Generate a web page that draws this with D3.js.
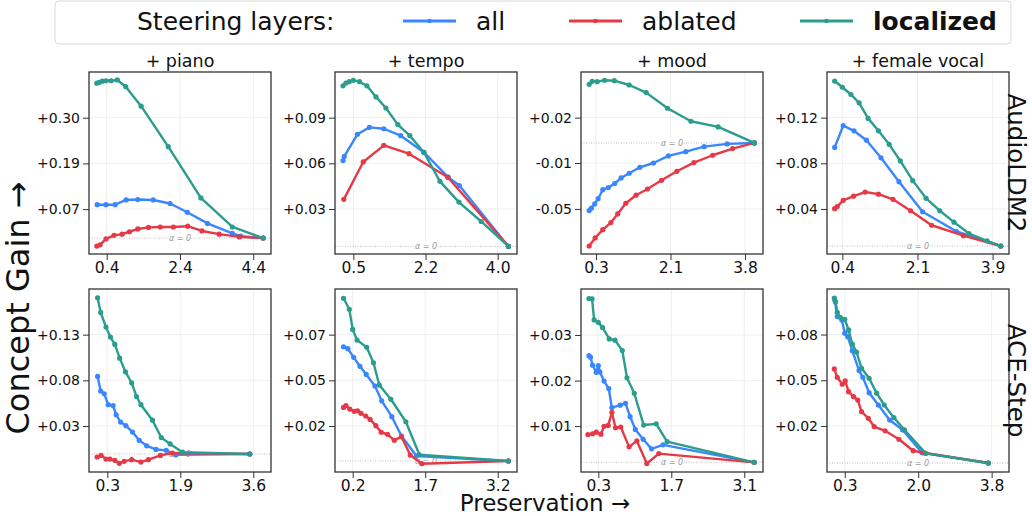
<!DOCTYPE html>
<html>
<head>
<meta charset="utf-8">
<script src="https://cdn.jsdelivr.net/npm/d3@7"></script>
<style>
  body { margin: 0; background: #fff; }
  svg { font-family: "DejaVu Sans", sans-serif; }
</style>
</head>
<body>
<div id="chart"></div>
<script>
const concepts = ["+ piano", "+ tempo", "+ mood", "+ female vocal"];
const models = ["AudioLDM2", "ACE-Step"];
const seriesNames = ["all", "ablated", "localized"];

// points are [preservation, concept gain]
// AudioLDM2
const ldmPianoAll = [[0.14,0.084],[0.38,0.084],[0.63,0.084],[0.93,0.096],[1.25,0.097],[1.67,0.096],[2.13,0.087],[2.6,0.065],[3.15,0.037],[3.83,0.012],[4.06,0.005],[4.67,0]];
const ldmPianoAblated = [[0.13,-0.020],[0.22,-0.017],[0.38,-0.002],[0.6,0.007],[0.82,0.010],[1.02,0.016],[1.25,0.023],[1.54,0.027],[1.86,0.028],[2.22,0.028],[2.61,0.030],[3.0,0.018],[3.47,0.010],[4.02,0.003],[4.67,0]];
const ldmPianoLocalized = [[0.13,0.390],[0.2,0.392],[0.28,0.395],[0.38,0.396],[0.52,0.396],[0.69,0.398],[0.92,0.381],[1.34,0.332],[2.08,0.230],[2.97,0.101],[3.83,0.028],[4.67,0]];

const ldmTempoAll = [[0.25,0.062],[0.28,0.065],[0.6,0.081],[0.89,0.086],[1.24,0.085],[1.65,0.080],[2.21,0.068],[2.8,0.050],[3.07,0.044],[4.26,0]];
const ldmTempoAblated = [[0.27,0.034],[0.74,0.061],[1.24,0.073],[1.85,0.067],[2.79,0.050],[4.26,0]];
const ldmTempoLocalized = [[0.25,0.116],[0.32,0.118],[0.4,0.119],[0.5,0.120],[0.65,0.119],[0.83,0.116],[1.05,0.108],[1.29,0.100],[1.58,0.088],[1.87,0.080],[2.21,0.068],[2.6,0.047],[3.06,0.032],[3.6,0.018],[4.26,0]];

const ldmMoodAll = [[0.14,-0.0489],[0.19,-0.0472],[0.27,-0.0441],[0.35,-0.0403],[0.46,-0.0338],[0.59,-0.0323],[0.74,-0.0294],[0.89,-0.0253],[1.08,-0.0219],[1.33,-0.0176],[1.65,-0.0145],[2.0,-0.0094],[2.41,-0.0063],[2.84,-0.0027],[3.38,-0.0007],[4.02,0]];
const ldmMoodAblated = [[0.14,-0.0745],[0.28,-0.0687],[0.46,-0.0627],[0.65,-0.0576],[0.81,-0.0513],[1.0,-0.0436],[1.24,-0.0378],[1.51,-0.0333],[1.84,-0.027],[2.2,-0.0205],[2.6,-0.0142],[3.04,-0.0089],[3.51,-0.0041],[4.02,0]];
const ldmMoodLocalized = [[0.14,0.0424],[0.21,0.0446],[0.33,0.0443],[0.5,0.0453],[0.73,0.045],[1.08,0.0419],[1.48,0.0364],[1.98,0.0251],[2.53,0.0157],[3.17,0.0116],[4.02,0]];

const ldmVocalAll = [[0.22,0.095],[0.42,0.116],[0.67,0.111],[0.96,0.102],[1.3,0.085],[1.72,0.062],[2.27,0.033],[3.06,0.014],[4.09,0]];
const ldmVocalAblated = [[0.22,0.036],[0.28,0.038],[0.42,0.044],[0.66,0.048],[0.93,0.052],[1.24,0.050],[1.58,0.045],[1.99,0.034],[2.48,0.020],[3.22,0.010],[4.09,0]];
const ldmVocalLocalized = [[0.22,0.159],[0.4,0.153],[0.6,0.146],[0.79,0.138],[1.0,0.123],[1.24,0.111],[1.49,0.098],[1.75,0.082],[2.04,0.063],[2.35,0.046],[2.67,0.034],[3.0,0.023],[3.35,0.012],[3.77,0.005],[4.09,0]];

// ACE-Step
const acePianoAll = [[0.08,0.085],[0.15,0.069],[0.23,0.066],[0.32,0.054],[0.43,0.053],[0.5,0.043],[0.6,0.035],[0.72,0.031],[0.87,0.024],[1.02,0.015],[1.19,0.009],[1.4,0.005],[1.63,0.004],[1.85,-0.001],[3.52,0]];
const acePianoAblated = [[0.07,-0.0033],[0.16,-0.0015],[0.27,-0.0055],[0.36,-0.0055],[0.47,-0.0069],[0.57,-0.0102],[0.68,-0.008],[0.85,-0.0062],[1.06,-0.0088],[1.23,-0.0062],[1.5,-0.0015],[1.77,0.0011],[3.52,0]];
const acePianoLocalized = [[0.08,0.171],[0.15,0.155],[0.27,0.139],[0.37,0.128],[0.47,0.120],[0.58,0.105],[0.71,0.090],[0.85,0.078],[0.96,0.063],[1.06,0.054],[1.32,0.037],[1.52,0.018],[1.72,0.011],[2.0,0.002],[3.52,0]];

const aceTempoAll = [[0.01,0.0675],[0.1,0.0664],[0.22,0.0613],[0.35,0.056],[0.48,0.0512],[0.66,0.0443],[0.8,0.0356],[1.01,0.0262],[1.21,0.0148],[1.52,0.003],[3.42,0]];
const aceTempoAblated = [[0.01,0.0317],[0.06,0.0327],[0.14,0.0307],[0.23,0.0294],[0.3,0.0297],[0.37,0.0282],[0.47,0.0266],[0.56,0.0246],[0.68,0.0209],[0.79,0.017],[0.92,0.0158],[1.06,0.0122],[1.21,0.0144],[1.39,0.0035],[1.63,-0.0016],[3.42,0]];
const aceTempoLocalized = [[0.01,0.0962],[0.13,0.0897],[0.2,0.0778],[0.29,0.0715],[0.49,0.0672],[0.63,0.0581],[0.75,0.0449],[0.99,0.0365],[1.3,0.0232],[1.58,0.0037],[3.42,0]];

const aceMoodAll = [[0.12,0.0269],[0.15,0.0265],[0.19,0.0245],[0.26,0.0227],[0.3,0.0244],[0.33,0.0228],[0.41,0.0205],[0.5,0.0186],[0.56,0.0138],[0.72,0.0144],[0.82,0.0149],[0.91,0.0115],[1.01,0.0083],[1.16,0.0058],[1.32,0.0034],[1.54,0.0044],[3.29,0]];
const aceMoodAblated = [[0.1,0.007],[0.19,0.0072],[0.26,0.0076],[0.35,0.0071],[0.41,0.0091],[0.49,0.0093],[0.56,0.0126],[0.63,0.0087],[0.73,0.0089],[0.89,0.0039],[1.04,0.0054],[1.23,-0.0003],[1.46,0.0022],[3.29,0]];
const aceMoodLocalized = [[0.12,0.0413],[0.18,0.0412],[0.22,0.0359],[0.3,0.0353],[0.38,0.034],[0.51,0.0311],[0.62,0.0308],[0.76,0.0282],[0.85,0.0213],[0.99,0.0174],[1.17,0.0094],[1.41,0.0097],[1.62,0.0052],[3.29,0]];

const aceVocalAll = [[0.06,0.0981],[0.12,0.0881],[0.23,0.0861],[0.3,0.0781],[0.37,0.076],[0.48,0.0676],[0.64,0.0556],[0.73,0.0516],[0.88,0.0423],[1.1,0.0349],[1.37,0.0259],[1.68,0.0199],[2.14,0.0062],[3.72,0]];
const aceVocalAblated = [[0.05,0.0566],[0.12,0.0516],[0.24,0.0474],[0.31,0.0494],[0.39,0.0429],[0.51,0.0399],[0.61,0.0379],[0.7,0.0309],[0.86,0.0269],[1.0,0.0219],[1.26,0.0194],[1.59,0.0143],[1.93,0.0074],[2.18,0.0062],[3.72,0]];
const aceVocalLocalized = [[0.05,0.0993],[0.08,0.0969],[0.12,0.0907],[0.19,0.0877],[0.3,0.0865],[0.39,0.0801],[0.48,0.0715],[0.58,0.0668],[0.7,0.057],[0.88,0.051],[1.06,0.042],[1.24,0.0349],[1.47,0.0273],[1.72,0.02],[2.23,0.0058],[3.72,0]];

// axis ranges and ticks, one entry per concept column
const ldmXDomains = [[-0.083,4.884],[0.056,4.468],[-0.052,4.223],[0.042,4.282]];
const ldmYDomains = [[-0.040,0.418],[-0.0055,0.126],[-0.0803,0.0513],[-0.0077,0.1677]];
const aceXDomains = [[-0.114,4.0],[-0.166,3.599],[-0.032,3.459],[-0.124,4.214]];
const aceYDomains = [[-0.0197,0.1807],[-0.0065,0.1017],[-0.00244,0.0437],[-0.0054,0.1047]];

const ldmXTicks = [[0.4,2.4,4.4],[0.5,2.25,4.0],[0.3,2.05,3.8],[0.4,2.15,3.9]];
const ldmXTickLabels = [["0.4","2.4","4.4"],["0.5","2.2","4.0"],["0.3","2.1","3.8"],["0.4","2.1","3.9"]];
const aceXTicks = [[0.3,1.95,3.6],[0.2,1.7,3.2],[0.3,1.7,3.1],[0.3,2.05,3.8]];
const aceXTickLabels = [["0.3","1.9","3.6"],["0.2","1.7","3.2"],["0.3","1.7","3.1"],["0.3","2.0","3.8"]];

const ldmYTicks = [[0.073,0.188,0.303],[0.027,0.060,0.093],[-0.0477,-0.0145,0.0183],[0.0357,0.0797,0.1237]];
const ldmYTickLabels = [["+0.07","+0.19","+0.30"],["+0.03","+0.06","+0.09"],["-0.05","-0.01","+0.02"],["+0.04","+0.08","+0.12"]];
const aceYTicks = [[0.0307,0.0807,0.1307],[0.0207,0.0477,0.0747],[0.00914,0.0206,0.0321],[0.0223,0.0498,0.0773]];
const aceYTickLabels = [["+0.03","+0.08","+0.13"],["+0.02","+0.05","+0.07"],["+0.01","+0.02","+0.03"],["+0.02","+0.05","+0.08"]];

const colors = ["#3a86ff", "#e63946", "#2a9d8f"];

const rows = [
  {
    series: [[ldmPianoAll, ldmPianoAblated, ldmPianoLocalized],
             [ldmTempoAll, ldmTempoAblated, ldmTempoLocalized],
             [ldmMoodAll, ldmMoodAblated, ldmMoodLocalized],
             [ldmVocalAll, ldmVocalAblated, ldmVocalLocalized]],
    xDomains: ldmXDomains, yDomains: ldmYDomains,
    xTicks: ldmXTicks, xLabels: ldmXTickLabels,
    yTicks: ldmYTicks, yLabels: ldmYTickLabels
  },
  {
    series: [[acePianoAll, acePianoAblated, acePianoLocalized],
             [aceTempoAll, aceTempoAblated, aceTempoLocalized],
             [aceMoodAll, aceMoodAblated, aceMoodLocalized],
             [aceVocalAll, aceVocalAblated, aceVocalLocalized]],
    xDomains: aceXDomains, yDomains: aceYDomains,
    xTicks: aceXTicks, xLabels: aceXTickLabels,
    yTicks: aceYTicks, yLabels: aceYTickLabels
  }
];

const W = 1032, H = 516;
const svg = d3.select("#chart").append("svg")
    .attr("width", W).attr("height", H);

const colLeft = [89, 335, 581, 827],
      rowTop = [72, 289],
      panelW = 182,
      panelH = [182, 183];

rows.forEach((row, r) => {
  concepts.forEach((concept, c) => {
    const w = panelW, h = panelH[r];
    const g = svg.append("g")
        .attr("transform", "translate(" + colLeft[c] + "," + rowTop[r] + ")");

    const x = d3.scaleLinear().domain(row.xDomains[c]).range([0, w]);
    const y = d3.scaleLinear().domain(row.yDomains[c]).range([h, 0]);

    // grid
    g.append("g").selectAll("line").data(row.xTicks[c]).join("line")
        .attr("x1", d => x(d)).attr("x2", d => x(d))
        .attr("y1", 0).attr("y2", h)
        .attr("stroke", "#ebebeb").attr("stroke-width", 0.8);
    g.append("g").selectAll("line").data(row.yTicks[c]).join("line")
        .attr("y1", d => y(d)).attr("y2", d => y(d))
        .attr("x1", 0).attr("x2", w)
        .attr("stroke", "#ebebeb").attr("stroke-width", 0.8);

    // alpha = 0 reference
    g.append("line")
        .attr("x1", 0).attr("x2", w)
        .attr("y1", y(0)).attr("y2", y(0))
        .attr("stroke", "#b0b0b0").attr("stroke-width", 0.8)
        .attr("stroke-dasharray", "1,1.5");
    g.append("rect")
        .attr("x", w / 2 - 11).attr("y", y(0) - 4)
        .attr("width", 22).attr("height", 8)
        .attr("fill", "#fff");
    g.append("text")
        .attr("x", w / 2).attr("y", y(0))
        .attr("dy", "0.33em")
        .attr("text-anchor", "middle")
        .attr("font-size", 8).attr("font-style", "italic")
        .attr("fill", "#999")
        .text("\u03b1 = 0");

    // series
    const line = d3.line().x(d => x(d[0])).y(d => y(d[1]));
    row.series[c].forEach((pts, s) => {
      const sg = g.append("g").attr("class", "series-" + seriesNames[s]);
      sg.append("path")
          .datum(pts)
          .attr("fill", "none")
          .attr("stroke", colors[s])
          .attr("stroke-width", 2.4)
          .attr("stroke-linejoin", "round")
          .attr("d", line);
      sg.selectAll("circle").data(pts).join("circle")
          .attr("cx", d => x(d[0])).attr("cy", d => y(d[1]))
          .attr("r", 2.6)
          .attr("fill", colors[s]);
    });

    // axes
    const xAxis = g.append("g")
        .attr("transform", "translate(0," + h + ")")
        .call(d3.axisBottom(x).tickValues(row.xTicks[c])
            .tickFormat((d, i) => row.xLabels[c][i])
            .tickSize(6).tickPadding(2));
    xAxis.select(".domain").remove();
    xAxis.selectAll("line").attr("stroke", "#333");
    xAxis.selectAll("text").attr("font-size", 15.5).attr("fill", "#111")
        .attr("font-family", "DejaVu Sans");

    const yAxis = g.append("g")
        .call(d3.axisLeft(y).tickValues(row.yTicks[c])
            .tickFormat((d, i) => row.yLabels[c][i])
            .tickSize(6).tickPadding(3));
    yAxis.select(".domain").remove();
    yAxis.selectAll("line").attr("stroke", "#333");
    yAxis.selectAll("text").attr("font-size", 14).attr("fill", "#111")
        .attr("font-family", "DejaVu Sans");

    // frame
    g.append("rect")
        .attr("width", w).attr("height", h)
        .attr("fill", "none")
        .attr("stroke", "#333").attr("stroke-width", 1.3);

    if (r === 0) {
      g.append("text")
          .attr("x", w / 2).attr("y", -5)
          .attr("text-anchor", "middle")
          .attr("font-size", 17.5)
          .attr("fill", "#111")
          .text(concept);
    }
    if (c === concepts.length - 1) {
      g.append("text")
          .attr("transform", "translate(" + (w - 1) + "," + (h / 2) + ") rotate(90)")
          .attr("text-anchor", "middle")
          .attr("font-size", 24.5)
          .attr("fill", "#111")
          .text(models[r]);
    }
  });
});

// shared axis titles
svg.append("text")
    .attr("x", 545).attr("y", 511)
    .attr("text-anchor", "middle")
    .attr("font-size", 23)
    .attr("fill", "#111")
    .text("Preservation \u2192");
svg.append("text")
    .attr("transform", "translate(29,308) rotate(-90)")
    .attr("text-anchor", "middle")
    .attr("font-size", 32)
    .attr("fill", "#111")
    .text("Concept Gain \u2192");

// legend
const legend = svg.append("g");
legend.append("rect")
    .attr("x", 55).attr("y", 1)
    .attr("width", 956).attr("height", 43)
    .attr("rx", 4)
    .attr("fill", "#fff")
    .attr("stroke", "#d8d8d8").attr("stroke-width", 1);
legend.append("text")
    .attr("x", 137).attr("y", 30)
    .attr("font-size", 25).attr("fill", "#111")
    .text("Steering layers:");

const legendX = [403, 569, 800];
seriesNames.forEach((name, i) => {
  const lg = legend.append("g").attr("transform", "translate(" + legendX[i] + ",21)");
  lg.append("line")
      .attr("x1", 0).attr("x2", 53)
      .attr("stroke", colors[i]).attr("stroke-width", 3);
  lg.append("circle").attr("cx", 26.5).attr("r", 2.3).attr("fill", colors[i]);
  lg.append("text")
      .attr("x", 73).attr("y", 9)
      .attr("font-size", 25).attr("fill", "#111")
      .attr("font-weight", name === "localized" ? "bold" : "normal")
      .text(name);
});
</script>
</body>
</html>
